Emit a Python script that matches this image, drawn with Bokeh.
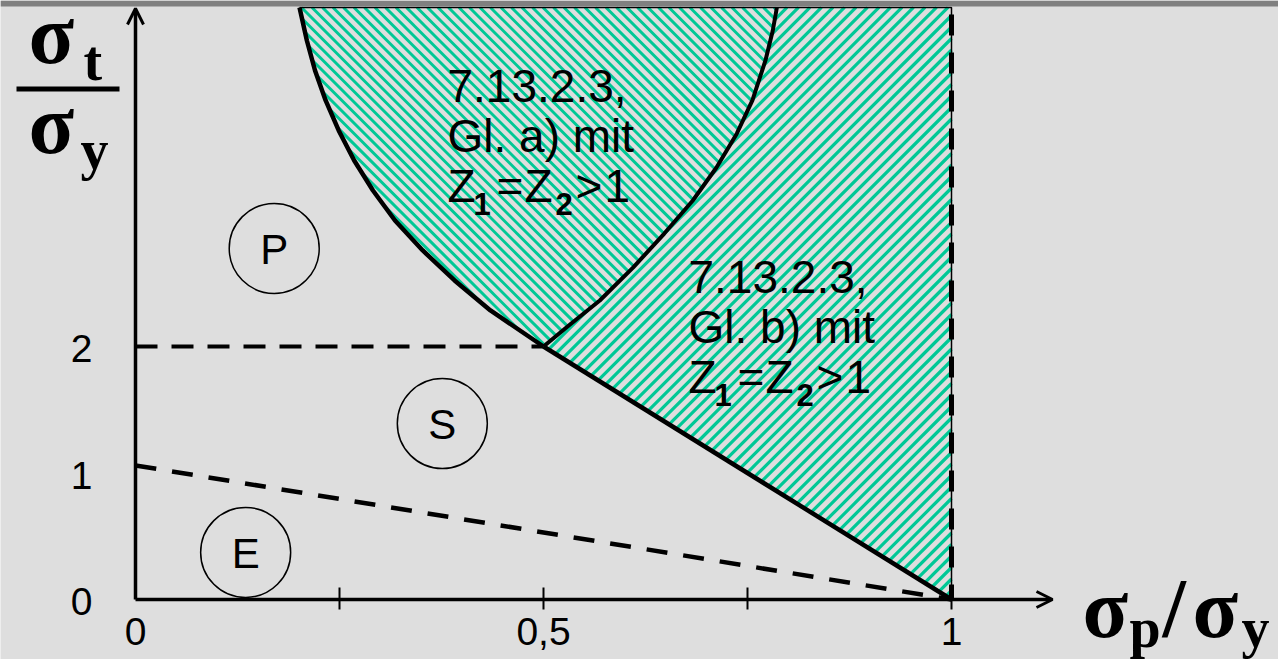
from bokeh.plotting import figure
from bokeh.models import Range1d, Arrow, OpenHead
from bokeh.core.properties import value
from bokeh.embed import file_html
from bokeh.resources import INLINE

# ---- data (sigma_p / sigma_y  vs  sigma_t / sigma_y) ----
y_top = 4.68

# boundary of range "Gl. a)" (left arc, from the corner point up to the top)
arc_a_x = [0.500, 0.435, 0.391, 0.352, 0.318, 0.291, 0.268, 0.249, 0.233, 0.220, 0.210, 0.201]
arc_a_y = [2.000, 2.285, 2.522, 2.759, 2.996, 3.233, 3.470, 3.708, 3.945, 4.182, 4.419, 4.680]

# boundary between "Gl. a)" and "Gl. b)" (right arc)
arc_b_x = [0.500, 0.531, 0.569, 0.610, 0.648, 0.683, 0.712, 0.737, 0.756, 0.772, 0.781, 0.786]
arc_b_y = [2.000, 2.166, 2.364, 2.625, 2.893, 3.154, 3.415, 3.684, 3.945, 4.261, 4.498, 4.680]

# straight limit from the corner point down to (1, 0)
limit_x = [0.5, 1.0]
limit_y = [2.0, 0.0]

# elastic limit (dashed)
elastic_x = [0.0, 1.0]
elastic_y = [1.06, 0.0]

# border S / P (dashed)
sp_x = [0.0, 0.5]
sp_y = [2.0, 2.0]

x_ticks = [0.25, 0.5, 0.75, 1.0]
x_label_pos = [0.0, 0.5, 1.0]
x_label_txt = ["0", "0,5", "1"]
y_label_pos = [0.0, 1.0, 2.0]
y_label_txt = ["0", "1", "2"]

zones = ["P", "S", "E"]
zone_x = [0.170, 0.376, 0.135]
zone_y = [2.775, 1.391, 0.372]

BG = "#dedede"
GREEN = "#00c896"
FONT = value("Liberation Sans")
SERIF = value("Liberation Serif")

# pixel scale of the drawing area
PX_X = 816.0
PX_Y = 126.5
X0, Y0 = 135.0, 599.0
W, H = 1278, 659
BASE = 0.35  # shift of the alphabetic baseline, in em

p = figure(width=W, height=H, output_backend="svg", toolbar_location=None,
           x_axis_type=None, y_axis_type=None,
           x_range=Range1d(-X0 / PX_X, (W - X0) / PX_X),
           y_range=Range1d(-(H - Y0) / PX_Y, Y0 / PX_Y),
           min_border=0, outline_line_color=None,
           background_fill_color=BG, border_fill_color=BG)
p.xgrid.visible = False
p.ygrid.visible = False


def hatch(poly_x, poly_y, sense, period):
    """45-degree hatch lines clipped to a polygon given in data units.

    sense = -1 for lines falling to the right, +1 for lines rising to the right.
    Works in screen pixels so that the stripes are drawn at 45 degrees.
    """
    sx = [X0 + x * PX_X for x in poly_x]
    sy = [Y0 - y * PX_Y for y in poly_y]
    # falling lines: sx - sy = c ; rising lines: sx + sy = c
    f = [a - b if sense < 0 else a + b for a, b in zip(sx, sy)]
    n = len(sx)
    xs, ys = [], []
    c = (min(f) // period) * period
    while c <= max(f):
        hits = []
        for i in range(n):
            j = (i + 1) % n
            fi, fj = f[i] - c, f[j] - c
            if (fi < 0) != (fj < 0):
                t = fi / (fi - fj)
                hits.append(sx[i] + t * (sx[j] - sx[i]))
        hits.sort()
        for k in range(0, len(hits) - 1, 2):
            a, b = hits[k], hits[k + 1]
            ya = (a - c) if sense < 0 else (c - a)
            yb = (b - c) if sense < 0 else (c - b)
            xs.append([(a - X0) / PX_X, (b - X0) / PX_X])
            ys.append([(Y0 - ya) / PX_Y, (Y0 - yb) / PX_Y])
        c += period
    return xs, ys


# hatched range a) between the two arcs
reg_a_x = arc_a_x + arc_b_x[::-1]
reg_a_y = arc_a_y + arc_b_y[::-1]
hx, hy = hatch(reg_a_x, reg_a_y, -1, 10.5)
p.multi_line(hx, hy, line_color=GREEN, line_width=3)

# hatched range b) right of the right arc
reg_b_x = arc_b_x + [1.0, 1.0]
reg_b_y = arc_b_y + [y_top, 0.0]
hx, hy = hatch(reg_b_x, reg_b_y, +1, 11.5)
p.multi_line(hx, hy, line_color=GREEN, line_width=3.2)

# thin frame of the hatched area
p.line([arc_a_x[-1], 1.0, 1.0], [y_top, y_top, 0.0], line_color="black", line_width=1.5)

# dashed limits
p.line(elastic_x, elastic_y, line_color="black", line_width=4.5, line_dash="21 16")
p.line(sp_x, sp_y, line_color="black", line_width=4, line_dash="22 14")
p.line([1.0, 1.0], [0.0, y_top], line_color="black", line_width=5, line_dash="21 17",
       line_dash_offset=6)

# solid boundaries
p.line(arc_a_x, arc_a_y, line_color="black", line_width=4.5, line_join="round")
p.line(arc_b_x, arc_b_y, line_color="black", line_width=4, line_join="round")
p.line(limit_x, limit_y, line_color="black", line_width=4.5)

# axes with arrows
head = dict(size=16, line_width=3, line_color="black")
p.add_layout(Arrow(end=OpenHead(**head), x_start=0, y_start=0,
                   x_end=(1052 - X0) / PX_X, y_end=0, line_width=3.5))
p.add_layout(Arrow(end=OpenHead(**head), x_start=0, y_start=0,
                   x_end=0, y_end=(Y0 - 8) / PX_Y, line_width=3.5))

# tick marks on the x axis
p.segment(x0=x_ticks, y0=[-10 / PX_Y] * 4, x1=x_ticks, y1=[12 / PX_Y] * 4,
          line_color="black", line_width=2)

# tick labels
p.text(x=x_label_pos, y=[0] * 3, text=x_label_txt, text_font=FONT, text_font_size="39px",
       text_align="center", text_baseline="middle", y_offset=32, text_color="black")
p.text(x=[0] * 3, y=y_label_pos, text=y_label_txt, text_font=FONT, text_font_size="39px",
       text_align="right", text_baseline="middle", x_offset=-43, y_offset=2,
       text_color="black")

# zone markers
p.scatter(zone_x, zone_y, marker="circle", size=90, fill_alpha=0,
          line_color="black", line_width=1.5)
p.text(x=zone_x, y=zone_y, text=zones, text_font=FONT, text_font_size="42px",
       text_align="center", text_baseline="middle", text_color="black", y_offset=1)


def range_label(x, y_base, eq):
    """Three-line label: clause, equation, condition Z1=Z2>1."""
    size = 46
    lines = ["7.13.2.3,", eq]
    for k, t in enumerate(lines):
        p.text(x=[x], y=[y_base], text=[t], text_font=FONT, text_font_size=f"{size}px",
               text_align="left", text_baseline="alphabetic",
               y_offset=50 * k - BASE * size)
    parts = [("Z", 0, False), ("1", 26, True), ("=", 49, False), ("Z", 77, False),
             ("2", 108, True), (">", 128, False), ("1", 157, False)]
    for t, dx, sub in parts:
        fs = 31 if sub else size
        p.text(x=[x], y=[y_base], text=[t], text_font=FONT,
               text_font_size=f"{fs}px",
               text_font_style="bold" if sub else "normal",
               text_align="left", text_baseline="alphabetic",
               x_offset=dx, y_offset=100 + (12 if sub else 0) - BASE * fs)


range_label((447 - X0) / PX_X, (Y0 - 102) / PX_Y, "Gl. a) mit")
range_label((688 - X0) / PX_X, (Y0 - 293) / PX_Y, "Gl. b) mit")


# axis titles
def serif(x_px, y_px, t, size):
    p.text(x=[(x_px - X0) / PX_X], y=[(Y0 - y_px) / PX_Y], text=[t], text_font=SERIF,
           text_font_size=f"{size}px", text_font_style="bold", text_align="left",
           text_baseline="alphabetic", text_color="black", y_offset=-BASE * size)


serif(28, 63, "σ", 84)
serif(83, 80, "t", 56)
p.segment(x0=[(16 - X0) / PX_X], y0=[(Y0 - 88.5) / PX_Y], x1=[(119 - X0) / PX_X],
          y1=[(Y0 - 88.5) / PX_Y], line_color="black", line_width=5)
serif(28, 153, "σ", 84)
serif(80, 169, "y", 56)

serif(1082, 637, "σ", 84)
serif(1129, 647, "p", 56)
serif(1162, 637, "/", 84)
serif(1192, 637, "σ", 84)
serif(1241, 647, "y", 56)

# header strip
p.quad(left=[-X0 / PX_X], right=[(W - X0) / PX_X], bottom=[(Y0 - 6) / PX_Y],
       top=[Y0 / PX_Y], fill_color="#808080", line_color=None)

open("out.html", "w").write(file_html(p, INLINE))
